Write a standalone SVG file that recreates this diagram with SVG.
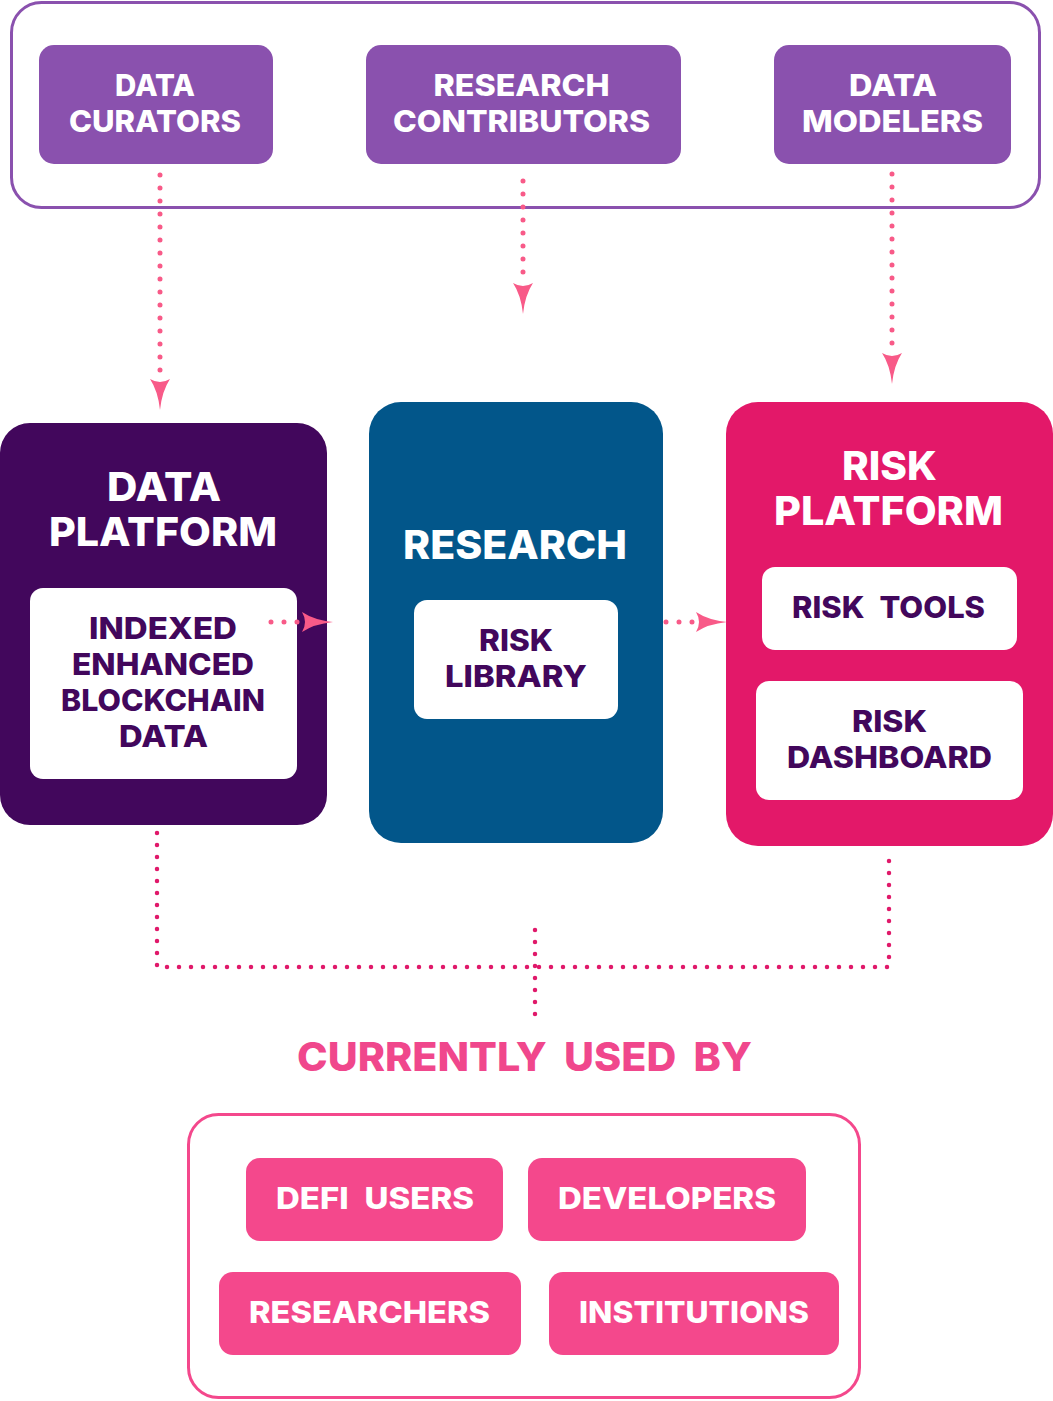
<svg xmlns="http://www.w3.org/2000/svg" width="1053" height="1401" viewBox="0 0 1053 1401">
<defs>
<style>
text{font-family:Inter,"Open Sans","Liberation Sans",sans-serif;font-weight:800;text-anchor:middle}
.w{fill:#ffffff}
.d{fill:#42075c}
.t30{font-size:30px}
.t40{font-size:40px}
.ws{word-spacing:8px}
.dotA{fill:none;stroke:#f85a88;stroke-width:5;stroke-linecap:round;stroke-dasharray:0 13}
.dotB{fill:none;stroke:#e0196a;stroke-width:4.5;stroke-linecap:round;stroke-dasharray:0 12}
.purple{fill:#8a51ae}
.pink{fill:#f4488c}
.card{fill:#ffffff}
</style>
<marker id="ah" viewBox="0 0 31 20" refX="0" refY="10" markerWidth="31" markerHeight="20" markerUnits="userSpaceOnUse" orient="auto">
<path d="M0,0 Q12,8 31,10 Q12,12 0,20 Q6,10 0,0 Z" fill="#f85a88"/>
</marker>
</defs>
<rect width="1053" height="1401" fill="#ffffff"/>

<g id="contributors-group">
<rect x="11.5" y="2.5" width="1028" height="205" rx="30" fill="none" stroke="#8a51ae" stroke-width="3"/>
</g>
<g id="data-curators">
<rect class="purple" x="39" y="45" width="234" height="119" rx="15"/>
<text class="w t30" x="155" y="96" textLength="80" lengthAdjust="spacingAndGlyphs">DATA</text>
<text class="w t30" x="155" y="132" textLength="172" lengthAdjust="spacingAndGlyphs">CURATORS</text>
</g>
<g id="research-contributors">
<rect class="purple" x="366" y="45" width="315" height="119" rx="15"/>
<text class="w t30" x="521.5" y="96" textLength="176" lengthAdjust="spacingAndGlyphs">RESEARCH</text>
<text class="w t30" x="521.5" y="132" textLength="257" lengthAdjust="spacingAndGlyphs">CONTRIBUTORS</text>
</g>
<g id="data-modelers">
<rect class="purple" x="774" y="45" width="237" height="119" rx="15"/>
<text class="w t30" x="893" y="96" textLength="88" lengthAdjust="spacingAndGlyphs">DATA</text>
<text class="w t30" x="892.5" y="132" textLength="181" lengthAdjust="spacingAndGlyphs">MODELERS</text>
</g>

<g id="data-platform">
<rect x="0" y="423" width="327" height="402" rx="30" fill="#42075c"/>
<text class="w t40" x="164" y="501" textLength="114" lengthAdjust="spacingAndGlyphs">DATA</text>
<text class="w t40" x="163" y="546" textLength="228" lengthAdjust="spacingAndGlyphs">PLATFORM</text>
<rect class="card" x="30" y="588" width="267" height="191" rx="13"/>
<text class="d t30" x="163" y="639" textLength="148" lengthAdjust="spacingAndGlyphs">INDEXED</text>
<text class="d t30" x="163" y="675" textLength="182" lengthAdjust="spacingAndGlyphs">ENHANCED</text>
<text class="d t30" x="163" y="711" textLength="204" lengthAdjust="spacingAndGlyphs">BLOCKCHAIN</text>
<text class="d t30" x="163.5" y="747" textLength="89" lengthAdjust="spacingAndGlyphs">DATA</text>
</g>

<g id="research">
<rect x="369" y="402" width="294" height="441" rx="32" fill="#02568a"/>
<text class="w t40" x="515" y="559" textLength="224" lengthAdjust="spacingAndGlyphs">RESEARCH</text>
<rect class="card" x="414" y="600" width="204" height="119" rx="13"/>
<text class="d t30" x="516" y="651" textLength="74" lengthAdjust="spacingAndGlyphs">RISK</text>
<text class="d t30" x="516" y="687" textLength="142" lengthAdjust="spacingAndGlyphs">LIBRARY</text>
</g>

<g id="risk-platform">
<rect x="726" y="402" width="327" height="444" rx="32" fill="#e31869"/>
<text class="w t40" x="889.5" y="480" textLength="95" lengthAdjust="spacingAndGlyphs">RISK</text>
<text class="w t40" x="888.5" y="525" textLength="229" lengthAdjust="spacingAndGlyphs">PLATFORM</text>
<rect class="card" x="762" y="567" width="255" height="83" rx="13"/>
<text class="d t30 ws" x="888.5" y="618" textLength="193" lengthAdjust="spacingAndGlyphs">RISK TOOLS</text>
<rect class="card" x="756" y="681" width="267" height="119" rx="13"/>
<text class="d t30" x="889.5" y="732" textLength="75" lengthAdjust="spacingAndGlyphs">RISK</text>
<text class="d t30" x="889.5" y="768" textLength="205" lengthAdjust="spacingAndGlyphs">DASHBOARD</text>
</g>

<g id="connectors">
<path class="dotA" d="M160,175 V379" marker-end="url(#ah)"/>
<path class="dotA" d="M523,181 V283" marker-end="url(#ah)"/>
<path class="dotA" d="M892,174 V353" marker-end="url(#ah)"/>
<path class="dotA" d="M271,622 H302" marker-end="url(#ah)"/>
<path class="dotA" d="M666,622 H696" marker-end="url(#ah)"/>
<path class="dotB" d="M157,833 V967 H889 V857"/>
<path class="dotB" d="M535,930 V1015"/>
</g>

<g id="currently-used-by">
<text class="ws" x="524.5" y="1071" style="font-size:40px;fill:#f0478c" textLength="455" lengthAdjust="spacingAndGlyphs">CURRENTLY USED BY</text>
</g>

<g id="users-group">
<rect x="188.5" y="1114.5" width="671" height="283" rx="30" fill="none" stroke="#f4488c" stroke-width="3"/>
</g>
<g id="defi-users">
<rect class="pink" x="246" y="1158" width="257" height="83" rx="14"/>
<text class="w t30 ws" x="375" y="1209" textLength="198" lengthAdjust="spacingAndGlyphs">DEFI USERS</text>
</g>
<g id="developers">
<rect class="pink" x="528" y="1158" width="278" height="83" rx="14"/>
<text class="w t30" x="667" y="1209" textLength="218" lengthAdjust="spacingAndGlyphs">DEVELOPERS</text>
</g>
<g id="researchers">
<rect class="pink" x="219" y="1272" width="302" height="83" rx="14"/>
<text class="w t30" x="369.5" y="1323" textLength="241" lengthAdjust="spacingAndGlyphs">RESEARCHERS</text>
</g>
<g id="institutions">
<rect class="pink" x="549" y="1272" width="290" height="83" rx="14"/>
<text class="w t30" x="694" y="1323" textLength="230" lengthAdjust="spacingAndGlyphs">INSTITUTIONS</text>
</g>
</svg>
